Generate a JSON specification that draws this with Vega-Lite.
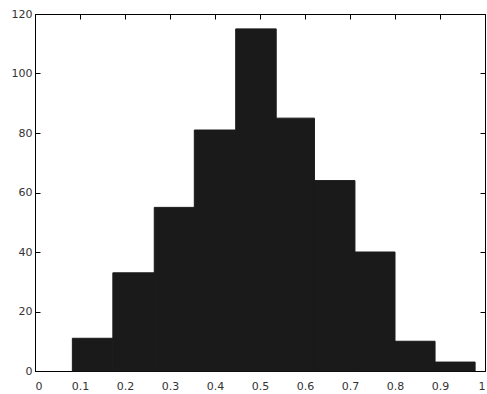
{
  "$schema": "https://vega.github.io/schema/vega-lite/v6.json",
  "width": 450,
  "height": 357,
  "autosize": {"type": "none"},
  "padding": {"left": 35, "top": 14, "right": 2, "bottom": 23},
  "background": "#ffffff",
  "config": {
    "view": {"stroke": "#000000", "strokeWidth": 1},
    "axis": {
      "domainColor": "#000000",
      "tickColor": "#000000",
      "tickSize": -5,
      "grid": false,
      "labelFont": "DejaVu Sans",
      "labelFontSize": 11,
      "labelColor": "#333333"
    }
  },
  "data": {
    "values": [
      {"bin_start": 0.083, "bin_end": 0.173, "count": 11},
      {"bin_start": 0.173, "bin_end": 0.265, "count": 33},
      {"bin_start": 0.265, "bin_end": 0.354, "count": 55},
      {"bin_start": 0.354, "bin_end": 0.446, "count": 81},
      {"bin_start": 0.446, "bin_end": 0.536, "count": 115},
      {"bin_start": 0.536, "bin_end": 0.621, "count": 85},
      {"bin_start": 0.621, "bin_end": 0.711, "count": 64},
      {"bin_start": 0.711, "bin_end": 0.8, "count": 40},
      {"bin_start": 0.8, "bin_end": 0.889, "count": 10},
      {"bin_start": 0.889, "bin_end": 0.978, "count": 3}
    ]
  },
  "layer": [
    {
      "mark": {"type": "rect", "color": "#1a1a1a", "stroke": "#1a1a1a", "strokeWidth": 1},
      "encoding": {
        "x": {"field": "bin_start", "type": "quantitative", "scale": {"domain": [0, 1], "nice": false},
          "axis": {"orient": "bottom", "title": null, "values": [0, 0.1, 0.2, 0.3, 0.4, 0.5, 0.6, 0.7, 0.8, 0.9, 1], "format": "~g", "labelPadding": 14}},
        "x2": {"field": "bin_end"},
        "y": {"field": "count", "type": "quantitative", "scale": {"domain": [0, 120], "nice": false},
          "axis": {"orient": "left", "title": null, "values": [0, 20, 40, 60, 80, 100, 120], "labelPadding": 8}},
        "y2": {"datum": 0}
      }
    },
    {
      "mark": {"type": "rect", "opacity": 0},
      "encoding": {
        "x": {"field": "bin_start", "type": "quantitative", "scale": {"domain": [0, 1], "nice": false},
          "axis": {"orient": "top", "title": null, "values": [0, 0.1, 0.2, 0.3, 0.4, 0.5, 0.6, 0.7, 0.8, 0.9, 1], "labels": false}},
        "x2": {"field": "bin_end"},
        "y": {"field": "count", "type": "quantitative", "scale": {"domain": [0, 120], "nice": false},
          "axis": {"orient": "right", "title": null, "values": [0, 20, 40, 60, 80, 100, 120], "labels": false}},
        "y2": {"datum": 0}
      }
    }
  ],
  "resolve": {"axis": {"x": "independent", "y": "independent"}}
}
